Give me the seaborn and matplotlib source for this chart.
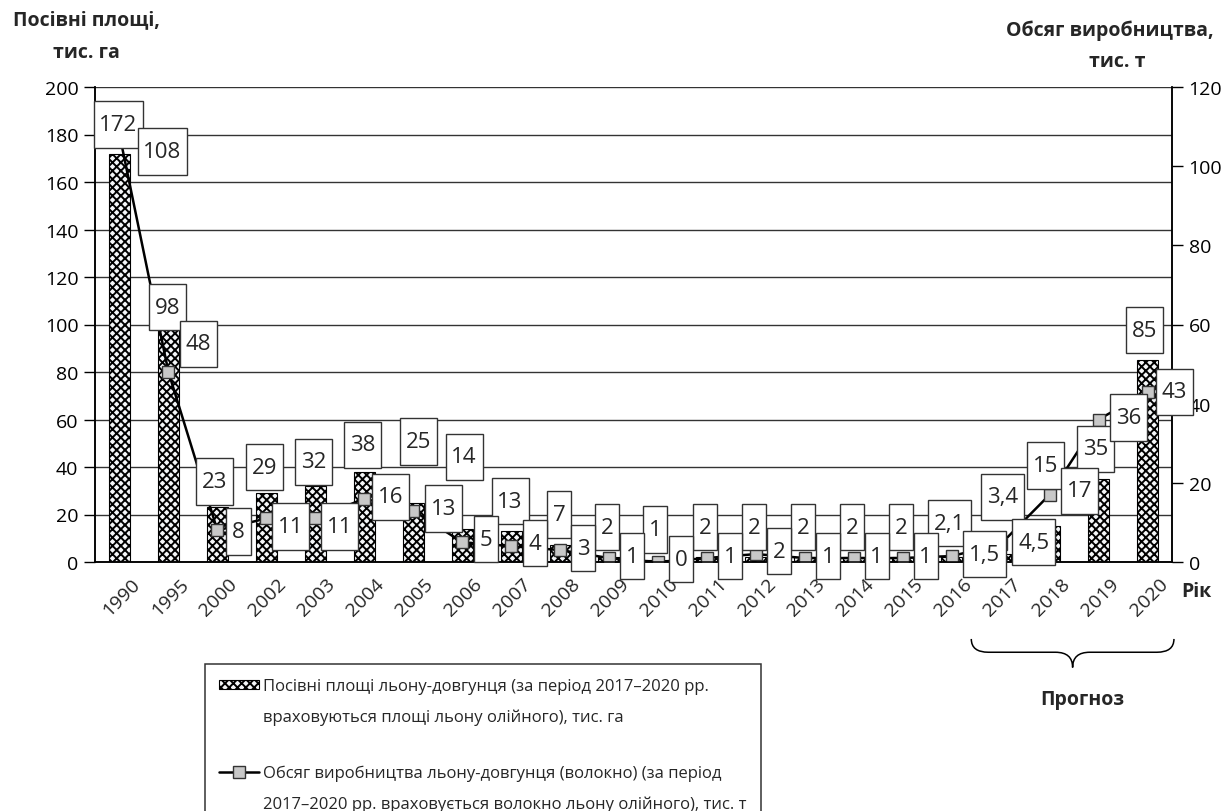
import numpy as np
import seaborn as sns
import matplotlib.pyplot as plt
from matplotlib.path import Path
from matplotlib.patches import PathPatch, Patch
from matplotlib.lines import Line2D
import matplotlib.transforms as mtransforms

# data
years = ['1990', '1995', '2000', '2002', '2003', '2004', '2005', '2006', '2007',
         '2008', '2009', '2010', '2011', '2012', '2013', '2014', '2015', '2016',
         '2017', '2018', '2019', '2020']
area = [172, 98, 23, 29, 32, 38, 25, 14, 13, 7, 2, 1, 2, 2, 2, 2, 2, 2.1, 3.4, 15, 35, 85]
fibre = [108, 48, 8, 11, 11, 16, 13, 5, 4, 3, 1, 0, 1, 2, 1, 1, 1, 1.5, 4.5, 17, 36, 43]

# label offsets in pixels (dx, dy up)
area_off = [(-1, 29), (-1, 22), (-3, 26), (-2, 26), (-2, 24), (-2, 27), (5, 61), (2, 72),
            (-1, 30), (-1, 31), (-2, 30), (-3, 30), (-2, 30), (-2, 30), (-2, 30), (-2, 30),
            (-2, 30), (-2, 34), (2, 57), (-4, 61), (-3, 30), (-3, 30)]
fibre_off = [(43, -17), (30, 28), (21, -1), (24, -8), (24, -8), (26, 2), (30, 2), (24, 3),
             (24, 3), (23, 2), (23, 2), (23, 3), (23, 2), (23, 3), (23, 2), (23, 2),
             (23, 2), (33, 2), (33, 2), (30, 4), (30, 2), (27, 0)]

sns.set_style('white')
plt.rcParams['font.family'] = ['Open Sans', 'DejaVu Sans']
plt.rcParams['hatch.linewidth'] = 1.4


def fmt(v):
    return str(int(v)) if float(v).is_integer() else str(v).replace('.', ',')


def tall_box(x0, y0, width, height, mutation_size):
    px = 0.26 * mutation_size
    py = 0.57 * mutation_size
    return Path([(x0 - px, y0 - py), (x0 + width + px, y0 - py),
                 (x0 + width + px, y0 + height + py), (x0 - px, y0 + height + py),
                 (x0 - px, y0 - py)], closed=True)


fig = plt.figure(figsize=(12.32, 8.12), dpi=100)
ax = fig.add_axes([95 / 1232, 1 - 563 / 812, (1172 - 95) / 1232, 475 / 812])
n = len(years)

sns.barplot(x=years, y=area, ax=ax, color='#f4f6f8', edgecolor='black', linewidth=0.8,
            hatch='xxxx', width=0.43, saturation=1, errorbar=None)
ax.set_ylim(0, 200)
ax.set_yticks(range(0, 201, 20))
ax.yaxis.grid(True, color='#333333', lw=1)
ax.set_axisbelow(True)

ax2 = ax.twinx()
sns.lineplot(x=np.arange(n), y=fibre, ax=ax2, color='black', lw=1.8, marker='s',
             markersize=9, markerfacecolor='#c8c8c8', markeredgecolor='#333333',
             markeredgewidth=1)
ax2.set_ylim(0, 120)
ax2.set_yticks(range(0, 121, 20))
ax.set_xlim(-0.5, n - 0.5)
ax2.set_xlim(-0.5, n - 0.5)

for a in (ax, ax2):
    a.set_xlabel('')
    a.set_ylabel('')
    a.spines['top'].set_visible(False)
    for s in ('left', 'right', 'bottom'):
        a.spines[s].set_color('black')
        a.spines[s].set_linewidth(1.1)
    a.tick_params(axis='y', direction='out', length=8, width=1, labelsize=14, pad=4,
                  colors='black')

ax.set_xticks(np.arange(n))
ax.set_xticklabels(years, rotation=45, ha='right', rotation_mode='anchor', fontsize=14)
ax.set_xticks(np.arange(n + 1) - 0.5, minor=True)
ax.tick_params(axis='x', which='major', length=0, pad=9)
ax.tick_params(axis='x', which='minor', direction='out', length=8, width=1, color='black')
shift = mtransforms.ScaledTranslation(11 / 100, 0, fig.dpi_scale_trans)
for lab in ax.get_xticklabels():
    lab.set_transform(lab.get_transform() + shift)

box = dict(boxstyle=tall_box, fc='white', ec='#333333', lw=1)
for i, v in enumerate(area):
    ax2.annotate(fmt(v), xy=(i, v), xycoords=ax.transData, xytext=area_off[i],
                 textcoords='offset pixels', ha='center', va='center', fontsize=16,
                 bbox=box, zorder=10)
for i, v in enumerate(fibre):
    ax2.annotate(fmt(v), xy=(i, v), xycoords=ax2.transData, xytext=fibre_off[i],
                 textcoords='offset pixels', ha='center', va='center', fontsize=16,
                 bbox=box, zorder=10)

# headers
fig.text(86 / 1232, 1 - 20 / 812, 'Посівні площі,', ha='center', va='center',
         fontsize=14, fontweight='bold')
fig.text(86 / 1232, 1 - 53 / 812, 'тис. га', ha='center', va='center',
         fontsize=14, fontweight='bold')
fig.text(1110 / 1232, 1 - 31 / 812, 'Обсяг виробництва,', ha='center', va='center',
         fontsize=14, fontweight='bold')
fig.text(1117 / 1232, 1 - 62 / 812, 'тис. т', ha='center', va='center',
         fontsize=14, fontweight='bold')
fig.text(1196 / 1232, 1 - 592 / 812, 'Рік', ha='center', va='center',
         fontsize=14, fontweight='bold')
fig.text(1082 / 1232, 1 - 700 / 812, 'Прогноз', ha='center', va='center',
         fontsize=14, fontweight='bold')

# brace under forecast years (2017-2020)
trans = mtransforms.blended_transform_factory(ax.transData, ax.transAxes)
L, R = 18 - 0.6, 21 + 0.54
M = (L + R) / 2
yt, ym, yb, r = -0.162, -0.19, -0.222, 0.35
verts = [(L, yt), (L, ym), (L + r, ym), (M - r, ym), (M, ym), (M, yb),
         (M, ym), (M + r, ym), (R - r, ym), (R, ym), (R, yt)]
codes = [Path.MOVETO, Path.CURVE3, Path.CURVE3, Path.LINETO, Path.CURVE3, Path.CURVE3,
         Path.CURVE3, Path.CURVE3, Path.LINETO, Path.CURVE3, Path.CURVE3]
ax.add_patch(PathPatch(Path(verts, codes), transform=trans, fc='none', ec='black',
                       lw=1.1, clip_on=False))

# legend: handle sits on the first line of each label
blank = Line2D([], [], color='none')
handles = [Patch(fc='#f4f6f8', ec='black', hatch='xxxx', lw=0.8), blank, blank,
           Line2D([], [], color='black', lw=1.8, marker='s', ms=9,
                  mfc='#c8c8c8', mec='#333333'), blank]
labels = ['Посівні площі льону-довгунця (за період 2017–2020 рр.',
          'враховуються площі льону олійного), тис. га',
          '',
          'Обсяг виробництва льону-довгунця (волокно) (за період',
          '2017–2020 рр. враховується волокно льону олійного), тис. т']
leg = fig.legend(handles, labels, loc='upper left',
                 bbox_to_anchor=(205 / 1232, 1 - 665 / 812), frameon=True,
                 fancybox=False, edgecolor='black', fontsize=12, handlelength=2.4,
                 handleheight=0.5, handletextpad=0.25, borderaxespad=0,
                 labelspacing=0.85, borderpad=0.85)
leg.get_frame().set_linewidth(1.1)
leg.get_texts()[2].set_fontsize(4)

fig.savefig('out.png', dpi=100)
